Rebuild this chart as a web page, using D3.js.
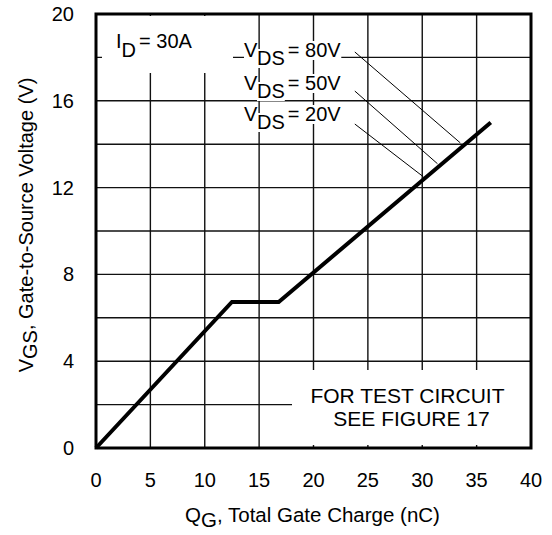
<!DOCTYPE html>
<html>
<head>
<meta charset="utf-8">
<script src="https://cdn.jsdelivr.net/npm/d3@7"></script>
<style>
  body { margin: 0; background: #fff; }
  text { font-family: "Liberation Sans", Arial, Helvetica, sans-serif; fill: #000; }
</style>
</head>
<body>
<div id="chart"></div>
<script>
// gate charge curve (Qg in nC, Vgs in V)
var qg  = [0, 12.5, 16.8, 36.3];
var vgs = [0, 6.73, 6.73, 15.0];

// VDS annotations: label, start of leader line, end on the curve
var vdsLabels  = ["80V", "50V", "20V"];
var leaderFrom = [[23.8, 18.25], [23.8, 16.45], [23.8, 14.93]];
var leaderTo   = [[33.5, 14.06], [31.4, 13.1], [30.1, 12.5]];

var xTicks = [0, 5, 10, 15, 20, 25, 30, 35, 40];
var yTicks = [0, 4, 8, 12, 16, 20];
var yGrid  = [2, 4, 6, 8, 10, 12, 14, 16, 18];

var W = 552, H = 535;
var margin = {top: 14, right: 21, bottom: 87, left: 96},
    width = W - margin.left - margin.right,
    height = H - margin.top - margin.bottom;

var svg = d3.select("#chart").append("svg")
    .attr("width", W).attr("height", H);
var g = svg.append("g")
    .attr("transform", "translate(" + margin.left + "," + margin.top + ")");

var x = d3.scaleLinear().domain([0, 40]).range([0, width]);
var y = d3.scaleLinear().domain([0, 20]).range([height, 0]);

// grid
g.selectAll(".vgrid").data(xTicks.slice(1, -1)).enter().append("line")
    .attr("x1", d => x(d)).attr("x2", d => x(d))
    .attr("y1", 0).attr("y2", height)
    .attr("stroke", "#111").attr("stroke-width", 1.4);
g.selectAll(".hgrid").data(yGrid).enter().append("line")
    .attr("x1", 0).attr("x2", width)
    .attr("y1", d => y(d)).attr("y2", d => y(d))
    .attr("stroke", "#111").attr("stroke-width", 1.4);

// blank boxes that cut the grid behind the notes
g.append("rect").attr("x", 6).attr("y", 2).attr("width", 131).attr("height", 57).attr("fill", "#fff");
g.append("rect").attr("x", 196).attr("y", 356).attr("width", width - 196).attr("height", 75).attr("fill", "#fff");

// text with white background per piece
function piece(parent, px, py, str, size, padLeft) {
  padLeft = padLeft || 0;
  var t = parent.append("text").attr("x", px).attr("y", py)
      .style("font-size", size + "px").text(str);
  var b = t.node().getBBox();
  parent.insert("rect", function() { return t.node(); })
      .attr("x", b.x - padLeft).attr("y", b.y + 2)
      .attr("width", b.width + padLeft).attr("height", b.height - 3)
      .attr("fill", "#fff");
  return b;
}

// ID label
var idg = g.append("g");
var b1 = piece(idg, 20, 34, "I", 20);
var b2 = piece(idg, b1.x + b1.width, 43, "D", 20);
piece(idg, b2.x + b2.width + 3, 34, "= 30A", 20);

// VDS labels
var baseY = [43, 76, 107];
vdsLabels.forEach(function(lab, i) {
  var lg = g.append("g");
  var a = piece(lg, 148, baseY[i], "V", 20);
  var c = piece(lg, a.x + a.width - 1, baseY[i] + 8, "DS", 20);
  piece(lg, c.x + c.width + 3, baseY[i], "= " + lab, 20, 4);
});

// leader lines
g.selectAll(".leader").data(leaderFrom).enter().append("line")
    .attr("x1", d => x(d[0])).attr("y1", d => y(d[1]))
    .attr("x2", (d, i) => x(leaderTo[i][0])).attr("y2", (d, i) => y(leaderTo[i][1]))
    .attr("stroke", "#000").attr("stroke-width", 1);

// test circuit note
g.append("text").attr("x", 311.5).attr("y", 389).attr("text-anchor", "middle")
    .style("font-size", "21px").text("FOR TEST CIRCUIT");
g.append("text").attr("x", 315.5).attr("y", 412).attr("text-anchor", "middle")
    .style("font-size", "21px").text("SEE FIGURE 17");

// curve
var line = d3.line().x(d => x(d[0])).y(d => y(d[1]));
g.append("path").datum(d3.zip(qg, vgs))
    .attr("d", line).attr("fill", "none")
    .attr("stroke", "#000").attr("stroke-width", 4).attr("stroke-linejoin", "miter");

// frame
g.append("rect").attr("x", 0).attr("y", 0).attr("width", width).attr("height", height)
    .attr("fill", "none").attr("stroke", "#000").attr("stroke-width", 3);

// tick labels
g.selectAll(".xt").data(xTicks).enter().append("text")
    .attr("x", d => x(d)).attr("y", height + 39)
    .attr("text-anchor", "middle").style("font-size", "20px").text(d => d);
g.selectAll(".yt").data(yTicks).enter().append("text")
    .attr("x", -22).attr("y", d => y(d)).attr("dy", "0.35em")
    .attr("text-anchor", "end").style("font-size", "20px").text(d => d);

// axis titles
var xt = svg.append("text").attr("x", 312.5).attr("y", 522)
    .attr("text-anchor", "middle").style("font-size", "20.5px");
xt.append("tspan").text("Q");
xt.append("tspan").attr("dy", 5).text("G");
xt.append("tspan").attr("dy", -5).text(", Total Gate Charge (nC)");

var yt = svg.append("text")
    .attr("transform", "translate(33,225) rotate(-90)")
    .attr("text-anchor", "middle").style("font-size", "20px");
yt.append("tspan").text("V");
yt.append("tspan").attr("dy", 4).text("GS");
yt.append("tspan").attr("dy", -4).text(", Gate-to-Source Voltage (V)");
</script>
</body>
</html>
